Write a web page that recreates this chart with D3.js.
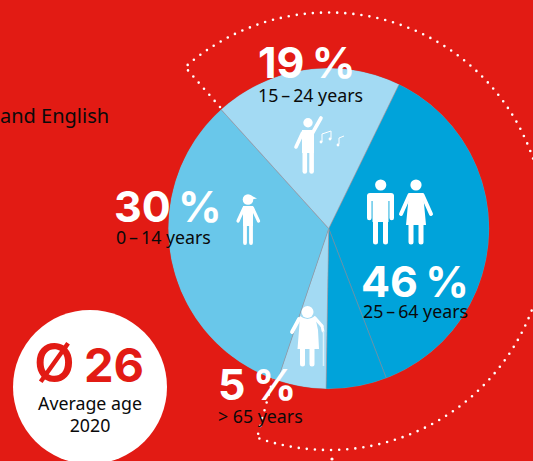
<!DOCTYPE html>
<html>
<head>
<meta charset="utf-8">
<script src="https://cdn.jsdelivr.net/npm/d3@7"></script>
<style>
  html, body { margin: 0; padding: 0; background: #e21b14; overflow: hidden; }
  svg { display: block; }
  .pct { font-family: Inter, sans-serif; font-weight: 700; font-size: 43px; fill: #fff; word-spacing: -3px; }
  .age { font-family: "Noto Sans", sans-serif; font-size: 17.8px; fill: #0a0a0a; }
</style>
</head>
<body>
<svg id="chart" width="533" height="461"></svg>
<script>
// shares as drawn in the picture, the blue part is two wedges with a seam
var sliceShares = [36.9, 6.1, 4.9, 33.1, 18.9];
var sliceGroups = ["adult", "adult", "senior", "child", "youth"];
var groups = ["adult", "senior", "child", "youth"];
var groupColors = ["#00a3da", "#a3daf3", "#69c7ea", "#a3daf3"];

var pctLabels = ["19 %", "30 %", "46 %", "5 %"];
var ageLabels = ["15\u2009\u2013\u200924 years", "0\u2009\u2013\u200914 years", "25\u2009\u2013\u200964 years", "> 65 years"];
var pctX = [258, 114, 361, 218];
var ageX = [258, 116, 363, 218];
var pctY = [78, 222, 297, 400];
var ageY = [102, 244, 318, 423];

var svg = d3.select("#chart");
var rad = Math.PI / 180;
var cx = 328.7, cy = 228.5, radius = 160.5;

var color = d3.scaleOrdinal().domain(groups).range(groupColors);
var pie = d3.pie().sort(null).value(function(d) { return d; })
  .startAngle(26 * rad).endAngle(386 * rad);
var arc = d3.arc().innerRadius(0).outerRadius(radius);

// dotted outline behind the pie
function dotted(d) {
  svg.append("path").attr("d", d)
    .attr("fill", "none").attr("stroke", "#fff")
    .attr("stroke-width", 2.6).attr("stroke-linecap", "round")
    .attr("stroke-dasharray", "0 8.1");
}
var upper = d3.path();
upper.moveTo(220, 107);
upper.lineTo(185, 67);
upper.arc(cx, cy, 216, -131.6 * rad, -18.5 * rad);
dotted(upper.toString());
var lower = d3.path();
lower.moveTo(273, 379);
lower.lineTo(257, 438);
lower.arc(329, 233, 217, 109.5 * rad, 18 * rad, true);
dotted(lower.toString());
svg.append("circle").attr("cx", 332).attr("cy", 459).attr("r", 1.6).attr("fill", "#fff");

// pie
svg.append("g").attr("transform", "translate(" + cx + "," + cy + ")")
  .selectAll("path")
  .data(pie(sliceShares))
  .enter().append("path")
    .attr("d", arc)
    .attr("fill", function(d, i) { return color(sliceGroups[i]); })
    .attr("stroke", "#8d9aa5").attr("stroke-width", 0.6).attr("stroke-opacity", 0.8);
// no stroke on the rim, red runs right up to the wedge
svg.append("circle").attr("cx", cx).attr("cy", cy).attr("r", radius + 0.6)
  .attr("fill", "none").attr("stroke", "#e21b14").attr("stroke-width", 1);

// icons
var icons = svg.append("g").attr("fill", "#fff").attr("stroke", "none");
function head(x, y, r) { icons.append("circle").attr("cx", x).attr("cy", y).attr("r", r); }
function limb(x1, y1, x2, y2, w) {
  icons.append("line").attr("x1", x1).attr("y1", y1).attr("x2", x2).attr("y2", y2)
    .attr("stroke", "#fff").attr("stroke-width", w).attr("stroke-linecap", "round");
}
function shape(d) { icons.append("path").attr("d", d); }

// man
head(380.7, 185, 5.6);
shape("M370,193H391Q394,193 394,196V201H367V196Q367,193 370,193Z");
shape("M372.5,196H388.5V222H372.5Z");
limb(369.3, 197, 369.3, 218, 4.6);
limb(391.7, 197, 391.7, 218, 4.6);
limb(375.5, 220, 375.5, 242, 5);
limb(385.5, 220, 385.5, 242, 5);
// woman
head(416, 185, 5.6);
shape("M409,193H423L426,225H406Z");
limb(409.5, 195, 401, 214, 4);
limb(422.5, 195, 431, 214, 4);
limb(411, 224, 411, 242, 5);
limb(421, 224, 421, 242, 5);
// youth with raised arm
head(308, 122.7, 4.7);
shape("M302,130H314L314,153H302Z");
limb(312.5, 133, 321, 118, 3.6);
limb(302.5, 133, 296, 147, 3.6);
limb(304.8, 150, 304.8, 171.5, 4.6);
limb(311.6, 150, 311.6, 171.5, 4.6);
svg.append("g").attr("fill", "none").attr("stroke", "#fff").attr("stroke-width", 1)
  .selectAll("path").data(["M322,142V134L331,131V139", "M339,144V138L344,136"])
  .enter().append("path").attr("d", function(d) { return d; });
icons.selectAll(".note").data([[321, 142], [330, 139], [338, 145]]).enter().append("circle")
  .attr("class", "note").attr("cx", function(d) { return d[0]; }).attr("cy", function(d) { return d[1]; }).attr("r", 1.4);
// child with cap
head(248, 199.5, 5.3);
shape("M250,195L257,198.5L250,199.5Z");
shape("M243,206H253L253,226H243Z");
limb(244, 208, 238, 221, 3.2);
limb(252.5, 208, 258.5, 221, 3.2);
limb(245, 224, 245, 243, 3.8);
limb(251, 224, 251, 243, 3.8);
// old woman with cane
head(307.5, 312, 6);
shape("M300,316Q307.5,322 315,316L318,330L319,349H297.5L299,330Z");
limb(299, 319, 292, 332, 3.8);
limb(315, 318, 322, 326, 3.2);
limb(322, 326, 323, 331, 2.8);
limb(302.5, 347, 302.5, 364, 5);
limb(312, 347, 312, 364, 5);
icons.append("line").attr("x1", 323.5).attr("y1", 331).attr("x2", 323.5).attr("y2", 366)
  .attr("stroke", "#dff2fb").attr("stroke-width", 1.5);

// labels
var labels = svg.append("g");
labels.selectAll(".pct").data(pctLabels).enter().append("text")
  .attr("class", "pct")
  .attr("x", function(d, i) { return pctX[i]; })
  .attr("y", function(d, i) { return pctY[i]; })
  .text(function(d) { return d; });
labels.selectAll(".age").data(ageLabels).enter().append("text")
  .attr("class", "age")
  .attr("x", function(d, i) { return ageX[i]; })
  .attr("y", function(d, i) { return ageY[i]; })
  .text(function(d) { return d; });

svg.append("text").attr("class", "age").attr("x", 0).attr("y", 123)
  .style("font-size", "20px").text("and English");

// average age badge
svg.append("circle").attr("cx", 90).attr("cy", 387).attr("r", 77).attr("fill", "#fff");
var badge = svg.append("text").attr("y", 382)
  .style("font-family", "Inter, sans-serif").style("font-weight", 700)
  .attr("fill", "#e21b14");
badge.append("tspan").attr("x", 34).style("font-size", "53px").style("font-weight", 600).text("\u00d8");
badge.append("tspan").attr("x", 84).style("font-size", "47px").text("26");
svg.append("text").attr("class", "age").attr("x", 90).attr("y", 410).attr("text-anchor", "middle").text("Average age");
svg.append("text").attr("class", "age").attr("x", 90).attr("y", 432).attr("text-anchor", "middle").text("2020");
</script>
</body>
</html>
